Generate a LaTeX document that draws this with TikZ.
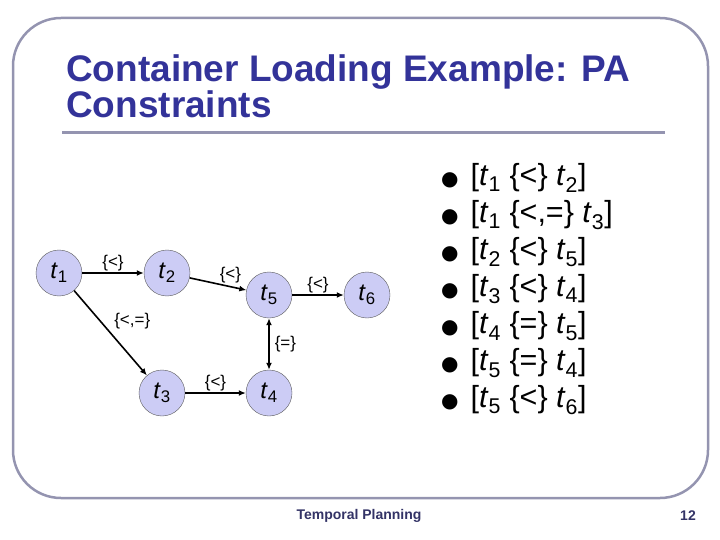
\documentclass[tikz,border=0pt]{standalone}
\usepackage{fontspec}
\setmainfont{Liberation Sans}
\newfontfamily\dotfont{DejaVu Sans}
\usetikzlibrary{arrows.meta,positioning}

\definecolor{slideblue}{RGB}{51,51,153}
\definecolor{footblue}{RGB}{51,51,102}
\definecolor{frameline}{RGB}{148,148,176}
\definecolor{nodefill}{RGB}{204,204,245}

\newcommand{\tv}[1]{\textit{t}\textsubscript{#1}}
\newcommand{\itemdot}{{\dotfont\fontsize{20}{20}\selectfont ●}\hspace{12pt}}

\begin{document}
\begin{tikzpicture}[
    x=1pt, y=-1pt,
    tnode/.style={
      circle, draw=gray!70!black, fill=nodefill, minimum size=46pt,
      inner sep=0pt, font=\fontsize{24}{26}\selectfont
    },
    rel/.style={font=\fontsize{17}{19}\selectfont, inner sep=1pt},
    arr/.style={-{Latex[length=7pt,width=6pt]}, line width=1.6pt},
    item/.style={anchor=west, font=\fontsize{30.5}{33}\selectfont, inner sep=0pt}
  ]
    \useasboundingbox (0,0) rectangle (720,540);

    % slide frame and title
    \draw[frameline, line width=2.5pt, rounded corners=48pt]
      (13,18) rectangle (708,498);
    \node[anchor=base west, text=slideblue, inner sep=0pt,
          font=\fontsize{37}{40}\selectfont\bfseries] (title1) at (66,82)
      {Container Loading Example: PA};
    \node[anchor=base west, text=slideblue, inner sep=0pt,
          font=\fontsize{37}{40}\selectfont\bfseries] (title2) at (66,118)
      {Constraints};
    \draw[frameline, line width=3pt] (62,133) -- (665,133);

    % network
    \node[tnode] (t1) at (59,273) {\tv{1}};
    \node[tnode] (t2) at (167,273) {\tv{2}};
    \node[tnode] (t5) at (269,295) {\tv{5}};
    \node[tnode] (t6) at (367,295) {\tv{6}};
    \node[tnode] (t3) at (162,393) {\tv{3}};
    \node[tnode] (t4) at (269,393) {\tv{4}};

    \draw[arr] (t1) -- node[rel, above] {\{<\}} (t2);
    \draw[arr] (t2) -- node[rel, above right=-1pt and 0pt] {\{<\}} (t5);
    \draw[arr] (t5) -- node[rel, above] {\{<\}} (t6);
    \draw[arr] (t1) -- node[rel, above right=2pt and 2pt] {\{<,=\}} (t3);
    \draw[arr] (t3) -- node[rel, above] {\{<\}} (t4);
    \draw[arr, {Latex[length=7pt,width=6pt]}-{Latex[length=7pt,width=6pt]}]
      (t5) -- node[rel, right=4pt] {\{=\}} (t4);

    % constraint list
    \node[item] (c1) at (441,178) {\itemdot[\tv{1} \{<\} \tv{2}]};
    \node[item] (c2) at (441,215) {\itemdot[\tv{1} \{<,=\} \tv{3}]};
    \node[item] (c3) at (441,252) {\itemdot[\tv{2} \{<\} \tv{5}]};
    \node[item] (c4) at (441,289) {\itemdot[\tv{3} \{<\} \tv{4}]};
    \node[item] (c5) at (441,326) {\itemdot[\tv{4} \{=\} \tv{5}]};
    \node[item] (c6) at (441,363) {\itemdot[\tv{5} \{=\} \tv{4}]};
    \node[item] (c7) at (441,400) {\itemdot[\tv{5} \{<\} \tv{6}]};

    % footer
    \node[text=footblue, font=\fontsize{14}{16}\selectfont\bfseries] (foot) at (359,516) {Temporal Planning};
    \node[text=footblue, font=\fontsize{14}{16}\selectfont\bfseries] (page) at (688,516) {12};
  \end{tikzpicture}
\end{document}
